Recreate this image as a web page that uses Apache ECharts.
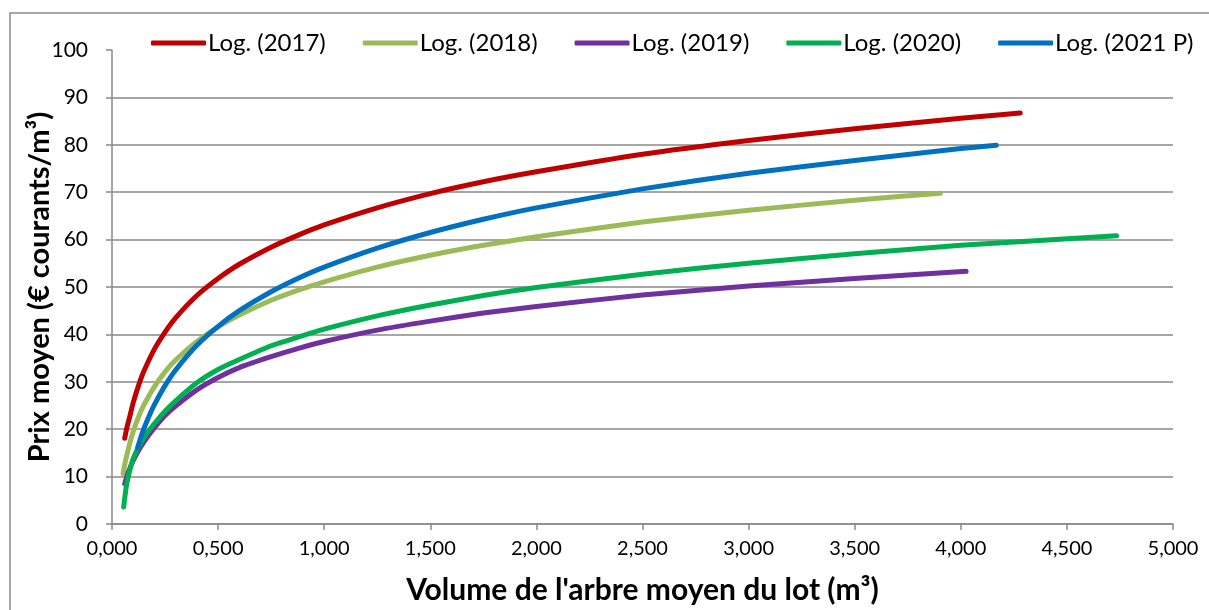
<!DOCTYPE html>
<html>
<head>
<meta charset="utf-8">
<script src="https://cdn.jsdelivr.net/npm/echarts@6/dist/echarts.min.js"></script>
<style>
    html, body { margin: 0; padding: 0; background: #fff; }
    #chart { width: 1209px; height: 610px; }
</style>
</head>
<body>
<div id="chart"></div>
<script>
// points: [volume m³, prix €/m³]
const seriesNames = ['Log. (2017)', 'Log. (2018)', 'Log. (2019)', 'Log. (2020)', 'Log. (2021 P)']
const seriesColors = ['#C00000', '#9BBB59', '#7030A0', '#00B050', '#0070C0']

const log2017 = [[0.06, 18.1], [0.07, 20.3], [0.08, 22.0], [0.1, 25.6], [0.125, 29.2], [0.15, 32.2], [0.2, 36.9], [0.25, 40.5], [0.3, 43.5], [0.4, 48.2], [0.5, 51.8], [0.6, 54.8], [0.75, 58.4], [0.875, 60.9], [1, 63.1], [1.25, 66.7], [1.5, 69.7], [1.75, 72.2], [2, 74.3], [2.5, 78.0], [3, 80.9], [3.5, 83.4], [4, 85.6], [4.28, 86.7]]
const log2018 = [[0.052, 10.6], [0.06, 12.6], [0.07, 14.6], [0.085, 17.2], [0.1, 19.5], [0.125, 22.6], [0.15, 25.1], [0.2, 29.0], [0.25, 32.1], [0.3, 34.6], [0.4, 38.5], [0.5, 41.6], [0.6, 44.1], [0.75, 47.2], [0.875, 49.3], [1, 51.1], [1.25, 54.2], [1.5, 56.7], [1.75, 58.8], [2, 60.6], [2.5, 63.7], [3, 66.2], [3.5, 68.3], [3.904, 69.8]]
const log2019 = [[0.06, 8.5], [0.07, 10.0], [0.08, 11.3], [0.1, 13.4], [0.125, 15.5], [0.15, 17.3], [0.2, 20.3], [0.25, 22.9], [0.3, 24.9], [0.4, 28.3], [0.5, 30.9], [0.6, 33.0], [0.75, 35.3], [0.875, 37.0], [1, 38.5], [1.25, 40.9], [1.5, 42.8], [1.75, 44.5], [2, 45.9], [2.5, 48.3], [3, 50.2], [3.5, 51.8], [4.025, 53.3]]
const log2020 = [[0.055, 3.6], [0.062, 6.2], [0.07, 8.6], [0.085, 11.5], [0.1, 13.8], [0.125, 16.2], [0.15, 18.2], [0.2, 21.2], [0.25, 23.8], [0.3, 26.0], [0.4, 29.8], [0.5, 32.6], [0.6, 34.7], [0.75, 37.6], [0.875, 39.4], [1, 41.1], [1.25, 43.9], [1.5, 46.2], [1.75, 48.2], [2, 49.9], [2.5, 52.7], [3, 55.0], [3.5, 57.0], [4, 58.8], [4.734, 60.8]]
const log2021 = [[0.12, 16.0], [0.135, 18.2], [0.15, 20.1], [0.175, 22.8], [0.2, 25.2], [0.25, 29.2], [0.3, 32.5], [0.4, 37.7], [0.5, 41.7], [0.6, 45.0], [0.75, 49.0], [0.875, 51.8], [1, 54.2], [1.25, 58.2], [1.5, 61.5], [1.75, 64.3], [2, 66.7], [2.5, 70.7], [3, 74.0], [3.5, 76.7], [4, 79.2], [4.167, 79.9]]

const allData = [log2017, log2018, log2019, log2020, log2021]

const font = 'Lato, "Open Sans", sans-serif'
const gray = '#898989'

const chart = echarts.init(document.getElementById('chart'), null, { renderer: 'canvas' })

const option = {
    animation: false,
    textStyle: { fontFamily: font },
    graphic: [{
        type: 'rect',
        shape: { x: 10, y: 13, width: 1300, height: 700 },
        style: { fill: 'none', stroke: gray, lineWidth: 1.5 },
        silent: true
    }],
    legend: {
        top: 26,
        left: 146,
        itemWidth: 55,
        itemHeight: 5,
        itemGap: 37,
        icon: 'roundRect',
        textStyle: { fontFamily: font, fontSize: 24, color: '#000', padding: [0, 0, 0, -3] },
        data: seriesNames
    },
    grid: {
        left: 112,
        right: 36,
        top: 50,
        bottom: 83,
        containLabel: false
    },
    xAxis: {
        type: 'value',
        min: 0,
        max: 5,
        interval: 0.5,
        name: "Volume de l'arbre moyen du lot (m³)",
        nameLocation: 'middle',
        nameGap: 51,
        nameMoveOverlap: false,
        nameTextStyle: { fontFamily: font, fontSize: 30, fontWeight: 'bold', color: '#000' },
        axisLine: { lineStyle: { color: gray, width: 1.5 } },
        axisTick: { show: true, length: 6, lineStyle: { color: gray, width: 1.5 } },
        axisLabel: {
            fontSize: 20,
            color: '#000',
            margin: 15,
            formatter: v => v.toFixed(3).replace('.', ',')
        },
        splitLine: { show: false }
    },
    yAxis: {
        type: 'value',
        min: 0,
        max: 100,
        interval: 10,
        name: 'Prix moyen (€ courants/m³)',
        nameLocation: 'middle',
        nameGap: 58,
        nameMoveOverlap: false,
        nameTextStyle: { fontFamily: font, fontSize: 29, fontWeight: 'bold', color: '#000' },
        axisLine: { show: true, lineStyle: { color: gray, width: 1.5 } },
        axisTick: { show: true, length: 6, lineStyle: { color: gray, width: 1.5 } },
        axisLabel: { fontSize: 21, color: '#000', margin: 24 },
        splitLine: { show: true, showMaxLine: false, lineStyle: { color: gray, width: 1.5 } }
    },
    series: allData.map((d, i) => ({
        name: seriesNames[i],
        type: 'line',
        data: d,
        smooth: 0.2,
        showSymbol: false,
        color: seriesColors[i],
        lineStyle: { width: 5, cap: 'round', join: 'round', color: seriesColors[i] }
    }))
}

chart.setOption(option)
</script>
</body>
</html>
